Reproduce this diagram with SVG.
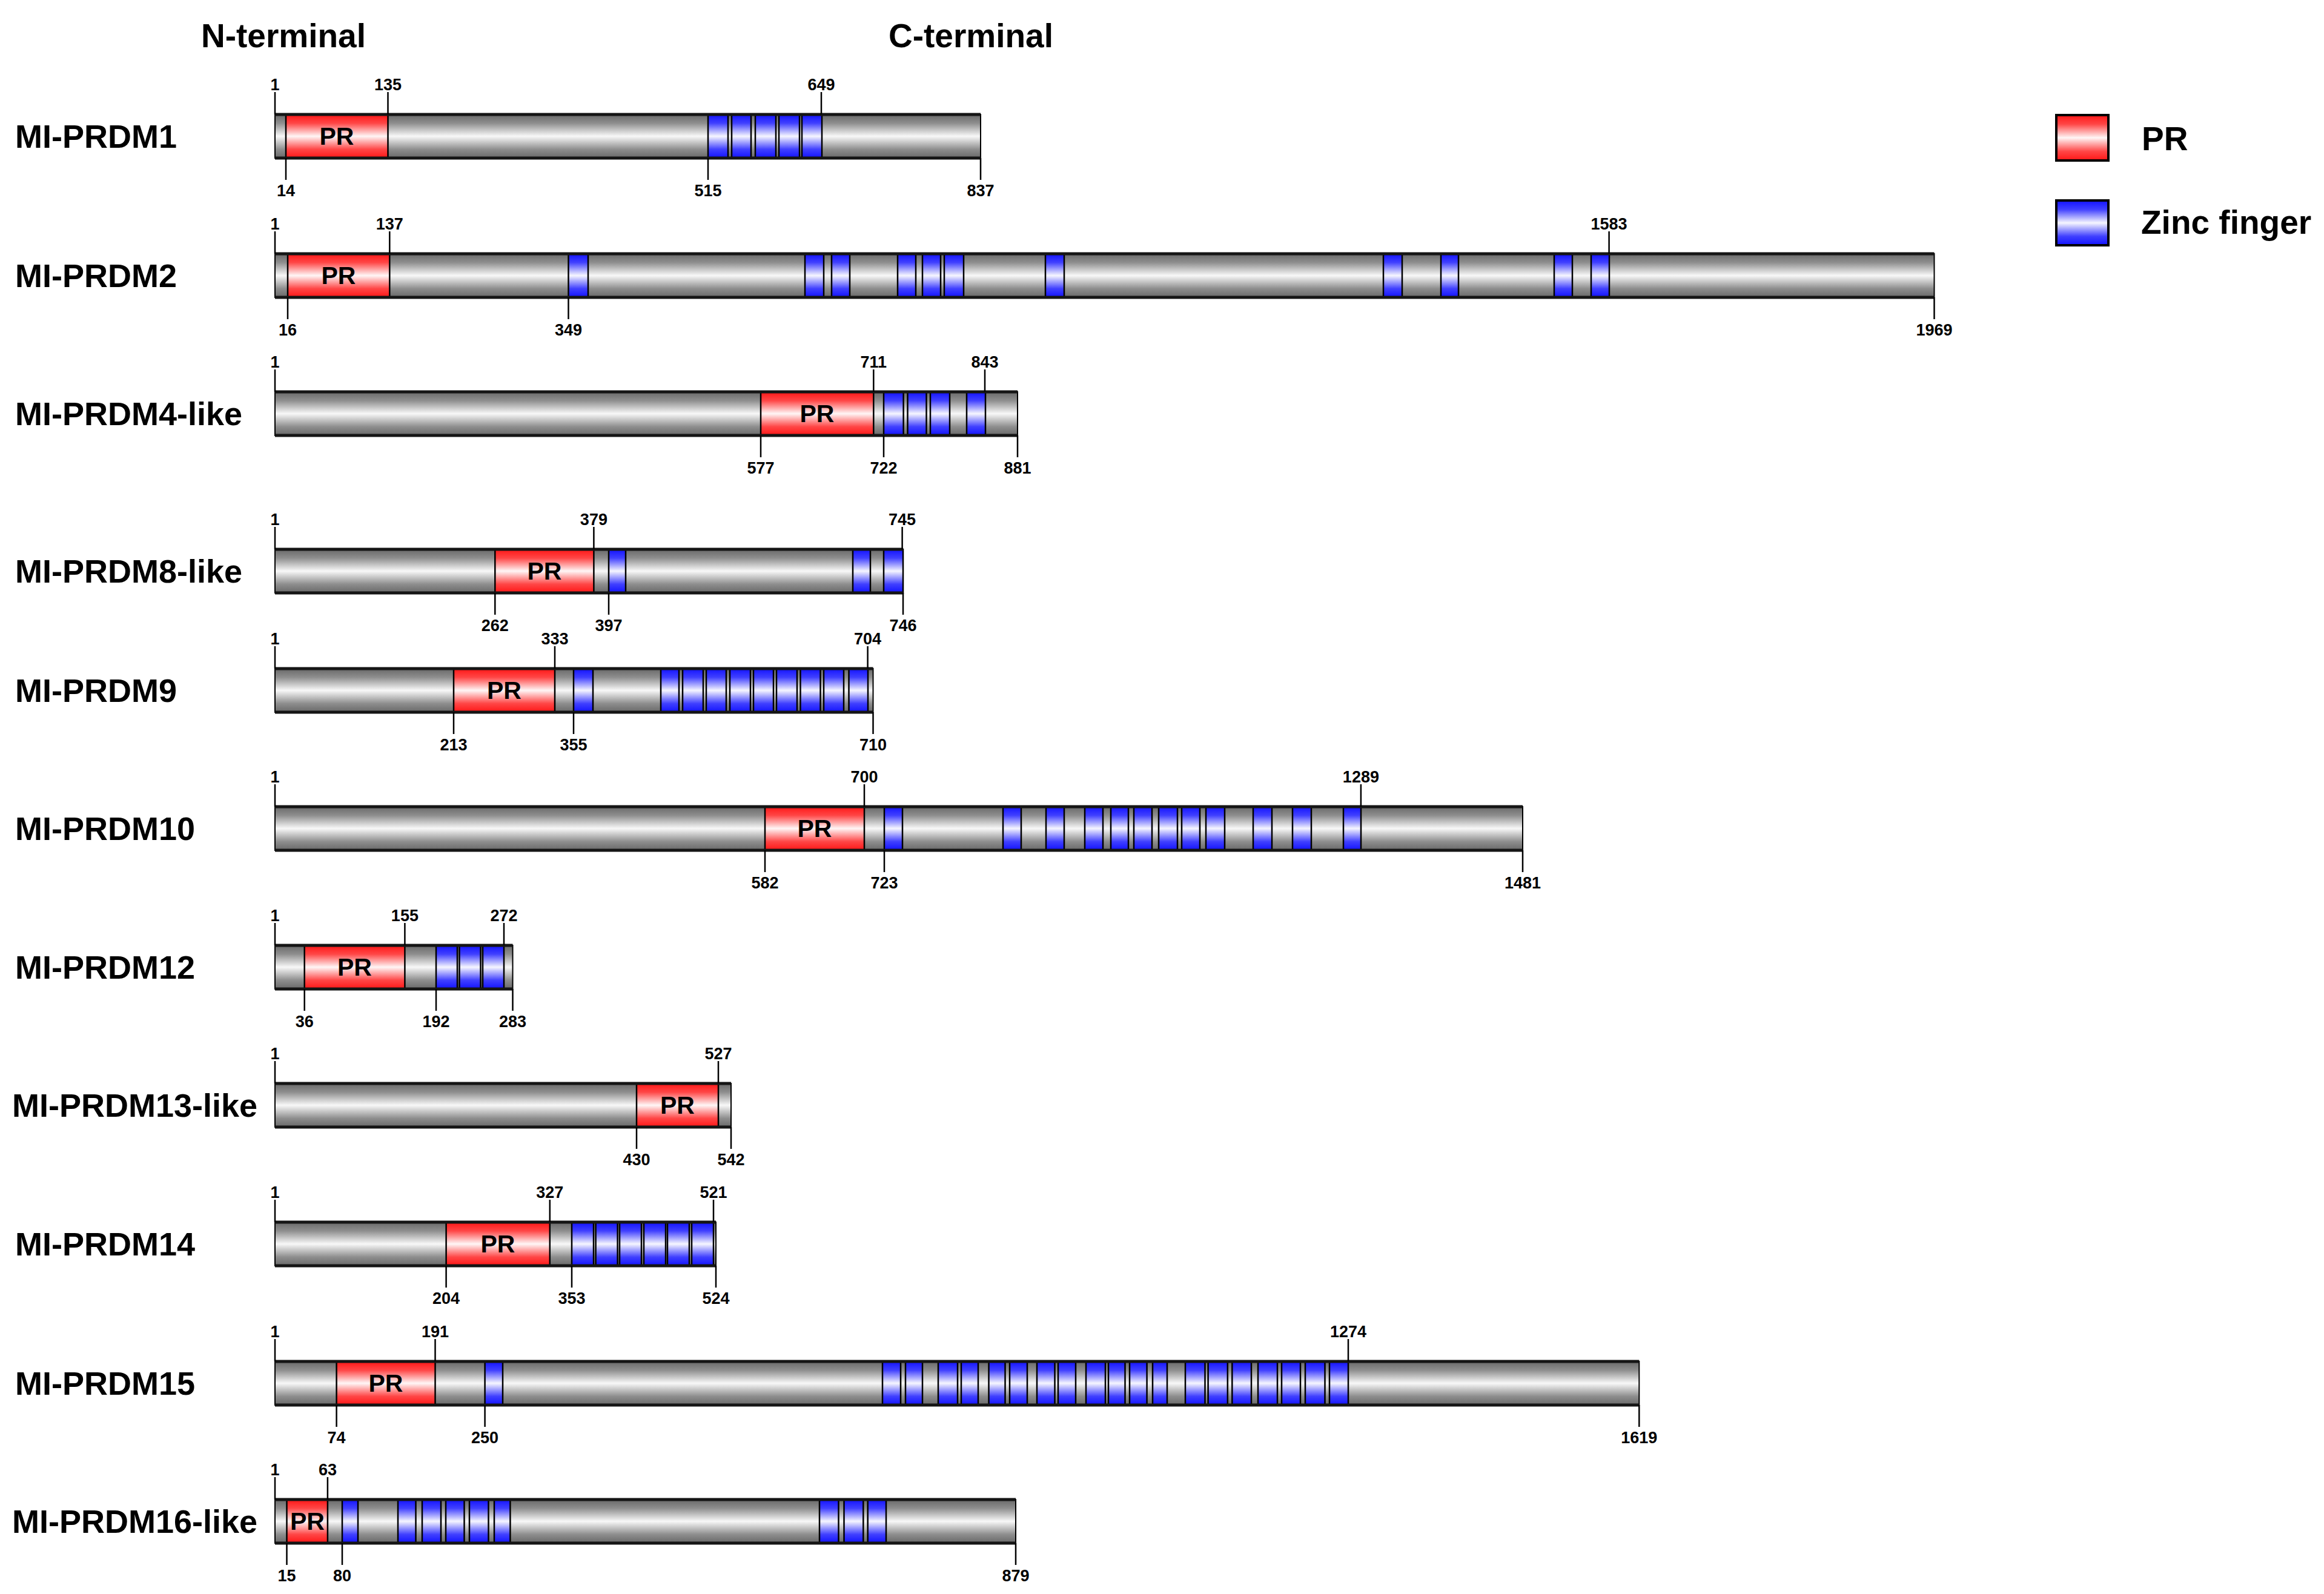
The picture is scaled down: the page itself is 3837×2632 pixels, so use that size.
<svg xmlns="http://www.w3.org/2000/svg" width="3837" height="2632" viewBox="0 0 3837 2632">
<defs>
<linearGradient id="gGray" x1="0" y1="0" x2="0" y2="1">
<stop offset="0" stop-color="#686868"/><stop offset="0.2" stop-color="#8e8e8e"/><stop offset="0.5" stop-color="#f8f8f8"/><stop offset="0.8" stop-color="#8e8e8e"/><stop offset="1" stop-color="#686868"/>
</linearGradient>
<linearGradient id="gRed" x1="0" y1="0" x2="0" y2="1">
<stop offset="0" stop-color="#ff1616"/><stop offset="0.2" stop-color="#ff4646"/><stop offset="0.5" stop-color="#fff6f6"/><stop offset="0.8" stop-color="#ff4646"/><stop offset="1" stop-color="#ff1616"/>
</linearGradient>
<linearGradient id="gBlue" x1="0" y1="0" x2="0" y2="1">
<stop offset="0" stop-color="#1212ff"/><stop offset="0.2" stop-color="#4040ff"/><stop offset="0.5" stop-color="#f6f6ff"/><stop offset="0.8" stop-color="#4040ff"/><stop offset="1" stop-color="#1212ff"/>
</linearGradient>
</defs>
<style>
.bar{fill:url(#gGray);stroke:#000;stroke-width:2}
.pr{fill:url(#gRed);stroke:#000;stroke-width:2.5}
.zf{fill:url(#gBlue);stroke:#000;stroke-width:2.5}
.edge{stroke:#151515;stroke-width:5;fill:none}
.tick{stroke:#000;stroke-width:2.5;fill:none}
text{font-family:"Liberation Sans",Arial,sans-serif;font-weight:bold;fill:#000}
.num{font-size:27px;text-anchor:middle}
.name{font-size:54px}
.prt{font-size:41px;text-anchor:middle}
.title{font-size:55px}
.leg{font-size:55px}
</style>
<rect width="3837" height="2632" fill="#fff"/>
<g id="titles">
<text class="title" x="332" y="78">N-terminal</text>
<text class="title" x="1467" y="78">C-terminal</text>
</g>
<g id="legend">
<rect class="pr" x="3395" y="190" width="86" height="75" style="stroke-width:4"/>
<text class="leg" x="3536" y="248">PR</text>
<rect class="zf" x="3395" y="331" width="86" height="74" style="stroke-width:4"/>
<text class="leg" x="3535" y="386">Zinc finger</text>
</g>

<g id="MI-PRDM1" transform="translate(0,189)">
<text class="name" x="25" y="55">MI-PRDM1</text>
<rect class="bar" x="454" y="0" width="1165" height="72"/>
<rect class="pr" x="472" y="0" width="168.5" height="72"/>
<text class="prt" x="556" y="50">PR</text>
<rect class="zf" x="1169" y="0" width="33" height="72"/>
<rect class="zf" x="1208" y="0" width="32" height="72"/>
<rect class="zf" x="1247" y="0" width="34" height="72"/>
<rect class="zf" x="1286" y="0" width="34" height="72"/>
<rect class="zf" x="1324" y="0" width="33" height="72"/>
<path class="edge" d="M454 0H1619M454 72H1619"/>
</g>
<g id="MI-PRDM2" transform="translate(0,419)">
<text class="name" x="25" y="55">MI-PRDM2</text>
<rect class="bar" x="454" y="0" width="2739.5" height="72"/>
<rect class="pr" x="475" y="0" width="168.3" height="72"/>
<text class="prt" x="559" y="50">PR</text>
<rect class="zf" x="938.5" y="0" width="32.5" height="72"/>
<rect class="zf" x="1329" y="0" width="31" height="72"/>
<rect class="zf" x="1373" y="0" width="30" height="72"/>
<rect class="zf" x="1482" y="0" width="30" height="72"/>
<rect class="zf" x="1523" y="0" width="30" height="72"/>
<rect class="zf" x="1559" y="0" width="32" height="72"/>
<rect class="zf" x="1726" y="0" width="31" height="72"/>
<rect class="zf" x="2284" y="0" width="31" height="72"/>
<rect class="zf" x="2379" y="0" width="29" height="72"/>
<rect class="zf" x="2566" y="0" width="30" height="72"/>
<rect class="zf" x="2627" y="0" width="30" height="72"/>
<path class="edge" d="M454 0H3193.5M454 72H3193.5"/>
</g>
<g id="MI-PRDM4-like" transform="translate(0,647)">
<text class="name" x="25" y="55">MI-PRDM4-like</text>
<rect class="bar" x="454" y="0" width="1226" height="72"/>
<rect class="pr" x="1256" y="0" width="186.3" height="72"/>
<text class="prt" x="1349" y="50">PR</text>
<rect class="zf" x="1459" y="0" width="32.6" height="72"/>
<rect class="zf" x="1498.5" y="0" width="31" height="72"/>
<rect class="zf" x="1536" y="0" width="32" height="72"/>
<rect class="zf" x="1596" y="0" width="31" height="72"/>
<path class="edge" d="M454 0H1680M454 72H1680"/>
</g>
<g id="MI-PRDM8-like" transform="translate(0,907)">
<text class="name" x="25" y="55">MI-PRDM8-like</text>
<rect class="bar" x="454" y="0" width="1037" height="72"/>
<rect class="pr" x="817.3" y="0" width="163.1" height="72"/>
<text class="prt" x="899" y="50">PR</text>
<rect class="zf" x="1005" y="0" width="28" height="72"/>
<rect class="zf" x="1408" y="0" width="29" height="72"/>
<rect class="zf" x="1459" y="0" width="32" height="72"/>
<path class="edge" d="M454 0H1491M454 72H1491"/>
</g>
<g id="MI-PRDM9" transform="translate(0,1104)">
<text class="name" x="25" y="55">MI-PRDM9</text>
<rect class="bar" x="454" y="0" width="987.5" height="72"/>
<rect class="pr" x="749" y="0" width="167" height="72"/>
<text class="prt" x="832.5" y="50">PR</text>
<rect class="zf" x="947" y="0" width="32" height="72"/>
<rect class="zf" x="1091" y="0" width="30" height="72"/>
<rect class="zf" x="1127" y="0" width="34" height="72"/>
<rect class="zf" x="1166" y="0" width="33" height="72"/>
<rect class="zf" x="1205" y="0" width="34" height="72"/>
<rect class="zf" x="1244" y="0" width="33" height="72"/>
<rect class="zf" x="1282" y="0" width="34" height="72"/>
<rect class="zf" x="1321.5" y="0" width="33" height="72"/>
<rect class="zf" x="1360" y="0" width="33" height="72"/>
<rect class="zf" x="1401.5" y="0" width="31.5" height="72"/>
<path class="edge" d="M454 0H1441.5M454 72H1441.5"/>
</g>
<g id="MI-PRDM10" transform="translate(0,1332)">
<text class="name" x="25" y="55">MI-PRDM10</text>
<rect class="bar" x="454" y="0" width="2060" height="72"/>
<rect class="pr" x="1263" y="0" width="164" height="72"/>
<text class="prt" x="1345" y="50">PR</text>
<rect class="zf" x="1460" y="0" width="30" height="72"/>
<rect class="zf" x="1656" y="0" width="30" height="72"/>
<rect class="zf" x="1727" y="0" width="30" height="72"/>
<rect class="zf" x="1791" y="0" width="30" height="72"/>
<rect class="zf" x="1834" y="0" width="29" height="72"/>
<rect class="zf" x="1872" y="0" width="30" height="72"/>
<rect class="zf" x="1913" y="0" width="31" height="72"/>
<rect class="zf" x="1951" y="0" width="30" height="72"/>
<rect class="zf" x="1991" y="0" width="31" height="72"/>
<rect class="zf" x="2069" y="0" width="31" height="72"/>
<rect class="zf" x="2134" y="0" width="31" height="72"/>
<rect class="zf" x="2218" y="0" width="29" height="72"/>
<path class="edge" d="M454 0H2514M454 72H2514"/>
</g>
<g id="MI-PRDM12" transform="translate(0,1561)">
<text class="name" x="25" y="55">MI-PRDM12</text>
<rect class="bar" x="454" y="0" width="392.5" height="72"/>
<rect class="pr" x="502.7" y="0" width="165.7" height="72"/>
<text class="prt" x="585.5" y="50">PR</text>
<rect class="zf" x="720" y="0" width="35" height="72"/>
<rect class="zf" x="758.5" y="0" width="35" height="72"/>
<rect class="zf" x="797" y="0" width="35" height="72"/>
<path class="edge" d="M454 0H846.5M454 72H846.5"/>
</g>
<g id="MI-PRDM13-like" transform="translate(0,1789)">
<text class="name" x="20" y="55">MI-PRDM13-like</text>
<rect class="bar" x="454" y="0" width="753" height="72"/>
<rect class="pr" x="1051" y="0" width="135" height="72"/>
<text class="prt" x="1118.5" y="50">PR</text>
<path class="edge" d="M454 0H1207M454 72H1207"/>
</g>
<g id="MI-PRDM14" transform="translate(0,2018)">
<text class="name" x="25" y="55">MI-PRDM14</text>
<rect class="bar" x="454" y="0" width="728" height="72"/>
<rect class="pr" x="736.6" y="0" width="171.2" height="72"/>
<text class="prt" x="822" y="50">PR</text>
<rect class="zf" x="944" y="0" width="36" height="72"/>
<rect class="zf" x="983.6" y="0" width="36" height="72"/>
<rect class="zf" x="1023" y="0" width="36" height="72"/>
<rect class="zf" x="1063" y="0" width="36" height="72"/>
<rect class="zf" x="1102" y="0" width="36" height="72"/>
<rect class="zf" x="1142" y="0" width="36" height="72"/>
<path class="edge" d="M454 0H1182M454 72H1182"/>
</g>
<g id="MI-PRDM15" transform="translate(0,2248)">
<text class="name" x="25" y="55">MI-PRDM15</text>
<rect class="bar" x="454" y="0" width="2252.3" height="72"/>
<rect class="pr" x="555.6" y="0" width="162.9" height="72"/>
<text class="prt" x="637" y="50">PR</text>
<rect class="zf" x="800.6" y="0" width="29.4" height="72"/>
<rect class="zf" x="1457" y="0" width="30" height="72"/>
<rect class="zf" x="1495" y="0" width="28" height="72"/>
<rect class="zf" x="1549" y="0" width="32" height="72"/>
<rect class="zf" x="1587" y="0" width="28" height="72"/>
<rect class="zf" x="1632.5" y="0" width="27" height="72"/>
<rect class="zf" x="1667" y="0" width="29" height="72"/>
<rect class="zf" x="1712" y="0" width="29.5" height="72"/>
<rect class="zf" x="1747" y="0" width="29" height="72"/>
<rect class="zf" x="1793" y="0" width="32" height="72"/>
<rect class="zf" x="1830" y="0" width="27.5" height="72"/>
<rect class="zf" x="1865" y="0" width="28.6" height="72"/>
<rect class="zf" x="1903" y="0" width="24" height="72"/>
<rect class="zf" x="1957" y="0" width="32.5" height="72"/>
<rect class="zf" x="1994.6" y="0" width="32.2" height="72"/>
<rect class="zf" x="2034.3" y="0" width="31.7" height="72"/>
<rect class="zf" x="2077" y="0" width="32" height="72"/>
<rect class="zf" x="2116" y="0" width="31" height="72"/>
<rect class="zf" x="2155" y="0" width="32.5" height="72"/>
<rect class="zf" x="2195" y="0" width="31" height="72"/>
<path class="edge" d="M454 0H2706.3M454 72H2706.3"/>
</g>
<g id="MI-PRDM16-like" transform="translate(0,2476)">
<text class="name" x="20" y="55">MI-PRDM16-like</text>
<rect class="bar" x="454" y="0" width="1223" height="72"/>
<rect class="pr" x="473.5" y="0" width="67.4" height="72"/>
<text class="prt" x="507.5" y="50">PR</text>
<rect class="zf" x="565" y="0" width="26" height="72"/>
<rect class="zf" x="657" y="0" width="29.5" height="72"/>
<rect class="zf" x="697" y="0" width="31" height="72"/>
<rect class="zf" x="736" y="0" width="30.5" height="72"/>
<rect class="zf" x="775" y="0" width="31.5" height="72"/>
<rect class="zf" x="816" y="0" width="26.4" height="72"/>
<rect class="zf" x="1353" y="0" width="31.5" height="72"/>
<rect class="zf" x="1393.5" y="0" width="31.8" height="72"/>
<rect class="zf" x="1432.7" y="0" width="30.3" height="72"/>
<path class="edge" d="M454 0H1677M454 72H1677"/>
</g>

<g id="connectors">
<g transform="translate(0,189)">
<path class="tick" d="M454 -37V0M640.5 -37V0M1356 -37V0M472 72V108M1169 72V108M1619 72V108"/>
<text class="num" x="454" y="-40">1</text><text class="num" x="640.5" y="-40">135</text><text class="num" x="1356" y="-40">649</text>
<text class="num" x="472" y="135">14</text><text class="num" x="1169" y="135">515</text><text class="num" x="1619" y="135">837</text>
</g>
<g transform="translate(0,419)">
<path class="tick" d="M454 -37V0M643.3 -37V0M2656.6 -37V0M475 72V108M938.5 72V108M3193.5 72V108"/>
<text class="num" x="454" y="-40">1</text><text class="num" x="643.3" y="-40">137</text><text class="num" x="2656.6" y="-40">1583</text>
<text class="num" x="475" y="135">16</text><text class="num" x="938.5" y="135">349</text><text class="num" x="3193.5" y="135">1969</text>
</g>
<g transform="translate(0,647)">
<path class="tick" d="M454 -37V0M1442.3 -37V0M1626 -37V0M1256 72V108M1459 72V108M1680 72V108"/>
<text class="num" x="454" y="-40">1</text><text class="num" x="1442.3" y="-40">711</text><text class="num" x="1626" y="-40">843</text>
<text class="num" x="1256" y="135">577</text><text class="num" x="1459" y="135">722</text><text class="num" x="1680" y="135">881</text>
</g>
<g transform="translate(0,907)">
<path class="tick" d="M454 -37V0M980.4 -37V0M1489.6 -37V0M817.3 72V108M1005 72V108M1491 72V108"/>
<text class="num" x="454" y="-40">1</text><text class="num" x="980.4" y="-40">379</text><text class="num" x="1489.6" y="-40">745</text>
<text class="num" x="817.3" y="135">262</text><text class="num" x="1005" y="135">397</text><text class="num" x="1491" y="135">746</text>
</g>
<g transform="translate(0,1104)">
<path class="tick" d="M454 -37V0M916 -37V0M1432.6 -37V0M749 72V108M947 72V108M1441.5 72V108"/>
<text class="num" x="454" y="-40">1</text><text class="num" x="916" y="-40">333</text><text class="num" x="1432.6" y="-40">704</text>
<text class="num" x="749" y="135">213</text><text class="num" x="947" y="135">355</text><text class="num" x="1441.5" y="135">710</text>
</g>
<g transform="translate(0,1332)">
<path class="tick" d="M454 -37V0M1427 -37V0M2246.9 -37V0M1263 72V108M1460 72V108M2514 72V108"/>
<text class="num" x="454" y="-40">1</text><text class="num" x="1427" y="-40">700</text><text class="num" x="2246.9" y="-40">1289</text>
<text class="num" x="1263" y="135">582</text><text class="num" x="1460" y="135">723</text><text class="num" x="2514" y="135">1481</text>
</g>
<g transform="translate(0,1561)">
<path class="tick" d="M454 -37V0M668.4 -37V0M832 -37V0M502.7 72V108M720 72V108M846.5 72V108"/>
<text class="num" x="454" y="-40">1</text><text class="num" x="668.4" y="-40">155</text><text class="num" x="832" y="-40">272</text>
<text class="num" x="502.7" y="135">36</text><text class="num" x="720" y="135">192</text><text class="num" x="846.5" y="135">283</text>
</g>
<g transform="translate(0,1789)">
<path class="tick" d="M454 -37V0M1186 -37V0M1051 72V108M1207 72V108"/>
<text class="num" x="454" y="-40">1</text><text class="num" x="1186" y="-40">527</text>
<text class="num" x="1051" y="135">430</text><text class="num" x="1207" y="135">542</text>
</g>
<g transform="translate(0,2018)">
<path class="tick" d="M454 -37V0M907.8 -37V0M1178 -37V0M736.6 72V108M944 72V108M1182 72V108"/>
<text class="num" x="454" y="-40">1</text><text class="num" x="907.8" y="-40">327</text><text class="num" x="1178" y="-40">521</text>
<text class="num" x="736.6" y="135">204</text><text class="num" x="944" y="135">353</text><text class="num" x="1182" y="135">524</text>
</g>
<g transform="translate(0,2248)">
<path class="tick" d="M454 -37V0M718.5 -37V0M2226 -37V0M555.6 72V108M800.6 72V108M2706.3 72V108"/>
<text class="num" x="454" y="-40">1</text><text class="num" x="718.5" y="-40">191</text><text class="num" x="2226" y="-40">1274</text>
<text class="num" x="555.6" y="135">74</text><text class="num" x="800.6" y="135">250</text><text class="num" x="2706.3" y="135">1619</text>
</g>
<g transform="translate(0,2476)">
<path class="tick" d="M454 -37V0M540.9 -37V0M473.5 72V108M565 72V108M1677 72V108"/>
<text class="num" x="454" y="-40">1</text><text class="num" x="540.9" y="-40">63</text>
<text class="num" x="473.5" y="135">15</text><text class="num" x="565" y="135">80</text><text class="num" x="1677" y="135">879</text>
</g>
</g>
</svg>
